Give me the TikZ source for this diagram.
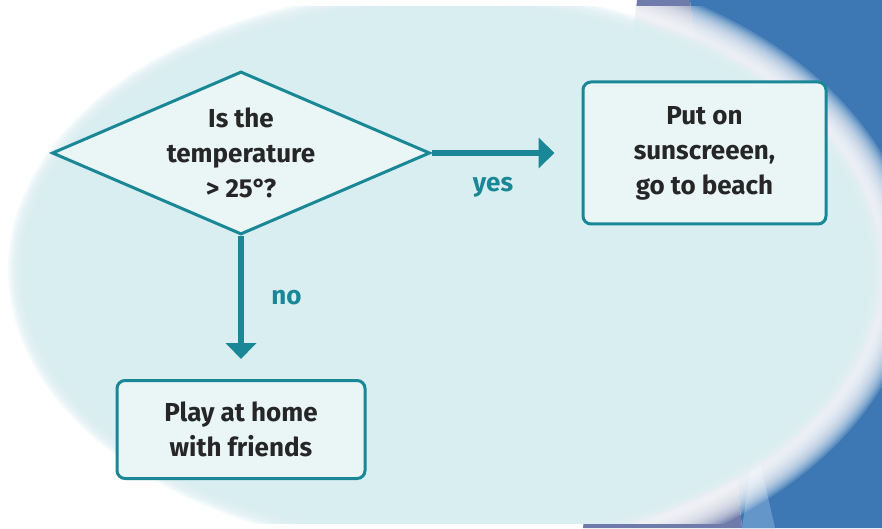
\documentclass[tikz,border=0pt]{standalone}
\usepackage{fontspec}
\setmainfont{Fira Sans}
\usepackage{tikz}
\usetikzlibrary{arrows.meta,positioning,shapes.geometric}
\definecolor{fcteal}{HTML}{1A8797}
\definecolor{fcsky}{HTML}{D8EEF1}
\definecolor{fcpale}{HTML}{EAF5F6}
\definecolor{fcink}{HTML}{262626}
\definecolor{fcnavy}{HTML}{3D78B4}
\definecolor{fcslate}{HTML}{6F7CAB}
\definecolor{fcblue}{HTML}{6596C9}

\begin{document}
\begin{tikzpicture}[
  x=1pt, y=1pt,
  font=\bfseries\fontsize{26}{35}\selectfont,
  decision/.style={diamond, draw=fcteal, line width=3pt, fill=fcpale,
                   text=fcink, align=center, inner sep=-8pt, aspect=2.4,
                   minimum width=378pt, minimum height=163pt},
  box/.style={draw=fcteal, line width=3pt, rounded corners=8pt,
              fill=fcpale, text=fcink, align=center},
  arr/.style={-{Triangle[width=30pt,length=16pt]}, fcteal, line width=6pt},
  lbl/.style={text=fcteal}
]
  % background
  \useasboundingbox (0,0) rectangle (882,528);
  \fill[white] (0,0) rectangle (882,528);
  \fill[fcslate] (637,528) -- (690,528) -- (742,0) -- (583,0) -- cycle;
  \fill[fcnavy] (690,528) -- (882,528) -- (882,0) -- (742,0) -- cycle;
  \fill[fcblue] (742,0) -- (775,0) -- (755,88) -- cycle;
  \begin{scope}
    \clip (0,5) rectangle (882,521);
    \foreach \k in {0,...,14}
      \fill[white, opacity=0.15] (445,258) ellipse ({470-2*\k} and {315-2*\k});
    \foreach \k in {0,...,9}
      \fill[fcsky, opacity=0.25] (445,258) ellipse ({437-2*\k} and {282-2*\k});
    \fill[fcsky] (445,258) ellipse (417 and 262);
  \end{scope}

  \node[decision] (temp) at (241,375) {Is the\\temperature\\> 25°?};
  \node[box, right=150pt of temp, minimum width=243pt, minimum height=142pt] (beach) {Put on\\sunscreeen,\\go to beach};
  \node[box, below=143pt of temp, minimum width=248pt, minimum height=98pt] (home) {Play at home\\with friends};
  \draw[arr, shorten >=27pt] (temp) -- node[lbl, pos=0.41, below=18pt] {yes} (beach);
  \draw[arr, shorten >=20pt] (temp) -- node[lbl, pos=0.43, right=24pt] {no} (home);
\end{tikzpicture}
\end{document}
